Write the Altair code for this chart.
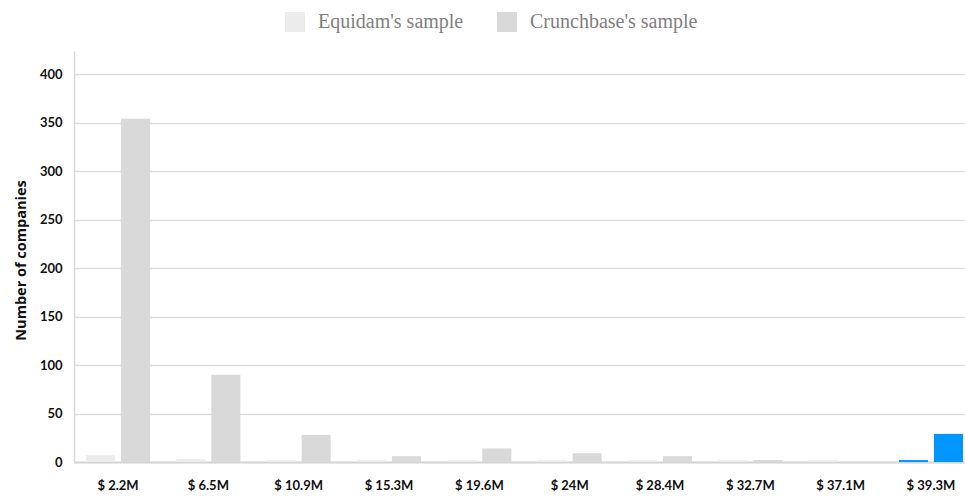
import altair as alt
import pandas as pd

# Valuation buckets and company counts per sample
categories = ["$ 2.2M", "$ 6.5M", "$ 10.9M", "$ 15.3M", "$ 19.6M",
              "$ 24M", "$ 28.4M", "$ 32.7M", "$ 37.1M", "$ 39.3M"]
equidam = [7, 3, 2, 2, 2, 2, 2, 2, 2, 2]
crunchbase = [354, 90, 28, 6, 14, 9, 6, 2, 0, 29]
series_names = ["Equidam's sample", "Crunchbase's sample"]
highlight = "$ 39.3M"

rows = []
for cat, e, c in zip(categories, equidam, crunchbase):
    rows.append({"bucket": cat, "series": series_names[0], "count": e})
    rows.append({"bucket": cat, "series": series_names[1], "count": c})
df = pd.DataFrame(rows)

label_font = "Lato"

bars = alt.Chart(df).mark_bar().encode(
    x=alt.X(
        "bucket:N",
        sort=categories,
        title=None,
        # the band range runs slightly past the right edge, so the last bar sits flush
        scale=alt.Scale(range=[0, 901], paddingInner=0.291, paddingOuter=0.133),
        axis=alt.Axis(
            labelAngle=0, ticks=False, domain=True, domainColor="#d6d6d6",
            domainWidth=2, labelFont=label_font, labelFontWeight="bold",
            labelFontSize=13, labelColor="#111111", labelPadding=17,
        ),
    ),
    xOffset=alt.XOffset(
        "series:N", sort=series_names,
        scale=alt.Scale(paddingInner=0.17, paddingOuter=0),
    ),
    y=alt.Y(
        "count:Q",
        title="Number of companies",
        scale=alt.Scale(domain=[0, 424], nice=False),
        axis=alt.Axis(
            values=[0, 50, 100, 150, 200, 250, 300, 350, 400],
            ticks=False, domain=True, domainColor="#d9d9d9", domainWidth=1.5,
            grid=True, gridColor="#dcdcdc", gridWidth=1.5,
            labelFont=label_font, labelFontWeight="bold", labelFontSize=13,
            labelColor="#111111", labelPadding=12,
            titleFont="Open Sans", titleFontWeight="bold", titleFontSize=14.5,
            titleColor="#111111", titlePadding=11, titleY=209,
        ),
    ),
    color=alt.condition(
        alt.datum.bucket == highlight,
        alt.value("#0096ff"),
        alt.Color(
            "series:N",
            sort=series_names,
            scale=alt.Scale(domain=series_names, range=["#ececec", "#d9d9d9"]),
            legend=alt.Legend(
                title=None, orient="none", direction="horizontal",
                legendX=211, legendY=-39,
                symbolType="square", symbolSize=400, symbolStrokeWidth=0,
                symbolOpacity=1,
                labelFont="Liberation Serif", labelFontSize=20, labelLimit=400,
                labelColor="#808080", labelOffset=13, columnPadding=33,
            ),
        ),
    ),
)

chart = bars.properties(
    width=891,
    height=411,
    autosize=alt.AutoSizeParams(type="none"),
    padding={"left": 74, "top": 51, "right": 0, "bottom": 36},
).configure_view(stroke=None)

chart.save("out.html", embed_options={"renderer": "svg", "actions": False})
